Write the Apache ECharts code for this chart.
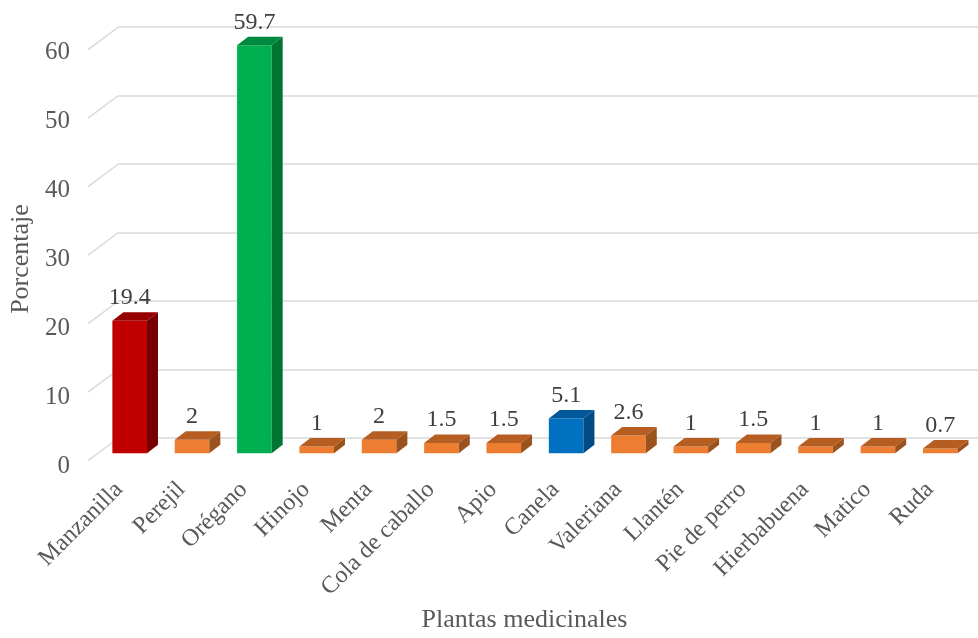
<!DOCTYPE html>
<html>
<head>
<meta charset="utf-8">
<script src="https://cdn.jsdelivr.net/npm/echarts@6/dist/echarts.min.js"></script>
<style>
  html, body { margin: 0; padding: 0; background: #fff; }
  #main { width: 978px; height: 638px; }
</style>
</head>
<body>
<div id="main"></div>
<script>
var categories = ['Manzanilla', 'Perejil', 'Orégano', 'Hinojo', 'Menta', 'Cola de caballo', 'Apio',
  'Canela', 'Valeriana', 'Llantén', 'Pie de perro', 'Hierbabuena', 'Matico', 'Ruda'];
var values = [19.4, 2, 59.7, 1, 2, 1.5, 1.5, 5.1, 2.6, 1, 1.5, 1, 1, 0.7];
var yTicks = [0, 10, 20, 30, 40, 50, 60];

// colores de las barras (frente, tapa, costado)
var orange = ['#ED7D31', '#B65E22', '#9C521C'];
var special = {
  'Manzanilla': ['#C00000', '#960000', '#780000'],
  'Orégano': ['#00B050', '#008A3F', '#007533'],
  'Canela': ['#0070C0', '#00579A', '#004A86']
};

var FONT = '"Liberation Serif", "Times New Roman", serif';
var DX = 11, DY = -8.5;   // profundidad de las barras
var WX = -30.5, WY = 22.7; // pared lateral

var dom = document.getElementById('main');
var myChart = echarts.init(dom);

function renderBar(params, api) {
  var idx = api.value(0);
  var v = api.value(1);
  var top = api.coord([idx, v]);
  var base = api.coord([idx, 0]);
  var w = api.size([1, 0])[0] * 0.555;
  var x0 = top[0] - w / 2, x1 = top[0] + w / 2;
  var yt = top[1], yb = base[1];
  var c = special[categories[idx]] || orange;
  return {
    type: 'group',
    children: [
      { type: 'rect', shape: { x: x0, y: yt, width: w, height: yb - yt }, style: { fill: c[0] } },
      { type: 'polygon', shape: { points: [[x0, yt], [x1, yt], [x1 + DX, yt + DY], [x0 + DX, yt + DY]] }, style: { fill: c[1] } },
      { type: 'polygon', shape: { points: [[x1, yt], [x1 + DX, yt + DY], [x1 + DX, yb + DY], [x1, yb]] }, style: { fill: c[2] } },
      { type: 'text', x: top[0], y: yt + DY - 14.5,
        style: { text: String(values[idx]), fill: '#404040', font: '24px ' + FONT, align: 'center', verticalAlign: 'middle' } }
    ]
  };
}

function renderWall(params, api) {
  var p = api.coord([0, api.value(0)]);
  return {
    type: 'line',
    shape: { x1: p[0], y1: p[1], x2: p[0] + WX, y2: p[1] + WY },
    style: { stroke: '#D9D9D9', lineWidth: 1.5 }
  };
}

option = {
  backgroundColor: '#fff',
  animation: false,
  grid: [
    { left: 98.5, right: 6.6, top: 43.3, bottom: 184.7 },
    { left: 118.5, right: 0, top: 27, bottom: 200 },
    { left: 88, right: 17, top: 49.7, bottom: 177 },
    { left: 88, right: 17, top: 52, bottom: 172 }
  ],
  xAxis: [
    { gridIndex: 0, type: 'category', data: categories, show: false },
    { gridIndex: 1, type: 'value', min: 0, max: 1, show: false },
    {
      gridIndex: 2, type: 'category', data: categories,
      axisLine: { show: false }, axisTick: { show: false },
      axisLabel: { rotate: 45, margin: 40, interval: 0, color: '#595959', fontSize: 24, fontFamily: FONT },
      name: 'Plantas medicinales', nameLocation: 'middle', nameGap: 158,
      nameTextStyle: { color: '#595959', fontSize: 26, fontFamily: FONT }
    },
    { gridIndex: 3, type: 'value', min: 0, max: 1, show: false }
  ],
  yAxis: [
    { gridIndex: 0, type: 'value', min: 0, max: 60, interval: 10, show: false },
    {
      gridIndex: 1, type: 'value', min: 0, max: 60, interval: 10,
      axisLine: { show: false }, axisTick: { show: false }, axisLabel: { show: false },
      splitLine: { lineStyle: { color: '#D9D9D9', width: 1.5 } }
    },
    {
      gridIndex: 2, type: 'value', min: 0, max: 60, interval: 10, show: false
    },
    {
      gridIndex: 3, type: 'value', min: 0, max: 60, interval: 10,
      axisLine: { show: false }, axisTick: { show: false }, splitLine: { show: false },
      axisLabel: { margin: 18, color: '#595959', fontSize: 25, fontFamily: FONT },
      name: 'Porcentaje', nameLocation: 'middle', nameGap: 52,
      nameTextStyle: { color: '#595959', fontSize: 26, fontFamily: FONT }
    }
  ],
  series: [
    {
      type: 'custom', xAxisIndex: 1, yAxisIndex: 1,
      data: yTicks.map(function (t) { return [t]; }),
      renderItem: renderWall, silent: true, clip: false
    },
    {
      type: 'custom', xAxisIndex: 0, yAxisIndex: 0,
      data: values.map(function (v, i) { return [i, v]; }),
      encode: { x: 0, y: 1 },
      renderItem: renderBar, clip: false
    }
  ]
};
if (option && typeof option === 'object') {
  myChart.setOption(option, true);
}
</script>
</body>
</html>
